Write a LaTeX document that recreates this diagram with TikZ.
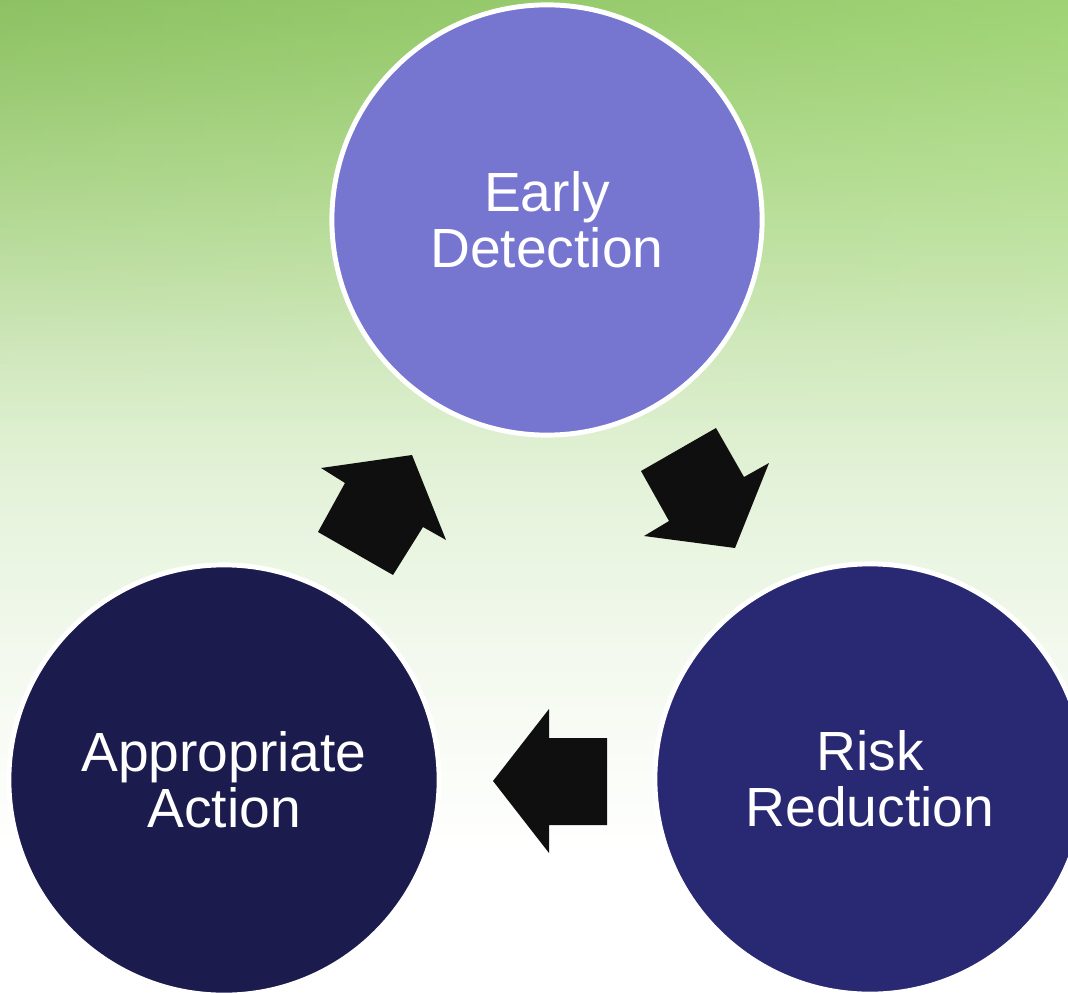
\documentclass[tikz,border=0pt]{standalone}
\usepackage{fontspec}
\setmainfont{Liberation Sans}
\usetikzlibrary{positioning, fadings}

\definecolor{grassA}{RGB}{150,206,105}
\definecolor{grassB}{RGB}{180,222,145}
\definecolor{grassC}{RGB}{210,234,190}
\definecolor{grassD}{RGB}{229,243,219}
\definecolor{grassE}{RGB}{243,249,238}
\definecolor{lilac}{RGB}{118,118,208}
\definecolor{navy}{RGB}{41,40,114}
\definecolor{ink}{RGB}{28,27,78}

% path box runs from 25bp (bottom) to 75bp (top)
\pgfdeclareverticalshading{meadow}{100bp}{color(0bp)=(white); color(32bp)=(white); color(42bp)=(grassE); color(50bp)=(grassD); color(58bp)=(grassC); color(67bp)=(grassB); color(75bp)=(grassA); color(100bp)=(grassA)}

\begin{document}
\begin{tikzpicture}[x=0.01cm, y=-0.01cm,
    stage/.style={circle, draw=white, line width=1.4pt, minimum size=4.3cm, inner sep=0pt,
      text=white, align=center, font=\fontsize{15.7pt}{16pt}\selectfont},
    block/.style={fill=black!94}]
  \useasboundingbox (0,0) rectangle (1068,992);
  \clip (0,0) rectangle (1068,992);

  % background
  \shade[shading=meadow] (0,0) rectangle (1068,992);
  \shade[left color=grassA!80!black, right color=grassB, path fading=south, opacity=0.3] (0,0) rectangle (1068,420);

  % the three stages
  \node[stage, fill=lilac] (detect) at (547,220) {Early\\Detection};
  \node[stage, fill=navy] (reduce) at (870,779) {Risk\\Reduction};
  \node[stage, fill=ink] (action) at (224,780) {Appropriate\\Action};

  % block arrows between them
  \fill[block] (641,471) -- (716,428) -- (744,477) -- (769,463) -- (735,548) -- (644,536) -- (669,521) -- cycle;
  \fill[block] (607,738) -- (549,738) -- (549,709) -- (493,781) -- (549,853) -- (549,825) -- (607,825) -- cycle;
  \fill[block] (393,575) -- (318,532) -- (345,483) -- (321,468) -- (412,455) -- (446,540) -- (423,527) -- cycle;
\end{tikzpicture}
\end{document}
